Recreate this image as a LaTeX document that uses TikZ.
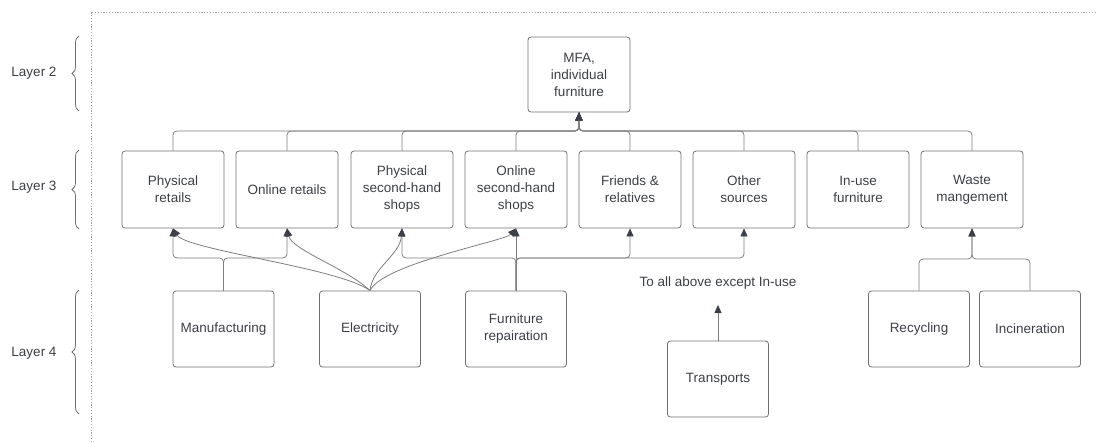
\documentclass[tikz,border=0pt]{standalone}
\usepackage{fontspec}
\setmainfont{Liberation Sans}
\usetikzlibrary{arrows.meta,decorations.pathreplacing,calc}
\definecolor{txt}{HTML}{3C3F45}
\definecolor{boxgray}{HTML}{707070}
\definecolor{linegray}{HTML}{7E7E7E}
\definecolor{headc}{HTML}{3B3F4A}
\definecolor{dotgray}{HTML}{A0A0A0}
\newcommand\diafont{\fontsize{13.5}{17}\selectfont}
\begin{document}
\begin{tikzpicture}[x=1pt,y=-1pt,
  box/.style={draw=boxgray, line width=0.8pt, rounded corners=3pt, align=center,
    text=txt, font=\diafont, inner sep=2pt, minimum width=102pt, minimum height=77pt},
  lowbox/.style={box, minimum width=101pt, minimum height=76pt},
  link/.style={draw=linegray, line width=0.8pt, rounded corners=4pt},
  arr/.style={link, -{Triangle[length=8pt,width=7pt,color=headc]}},
  layerbrace/.style={draw=boxgray, line width=0.8pt, decorate, decoration={brace, amplitude=7pt}},
  layertext/.style={text=txt, font=\diafont, inner sep=0pt},
  frame/.style={draw=dotgray, line width=0.9pt, dash pattern=on 1.2pt off 1.6pt}]

\useasboundingbox (0,0) rectangle (1097,442);

% dotted frame
\draw[frame] (91,442) -- (91,12) -- (1097,12);

% layer labels and braces
\node[layertext] (l2) at (34,73) {Layer 2};
\node[layertext] (l3) at (34,187) {Layer 3};
\node[layertext] (l4) at (34,353) {Layer 4};
\draw[layerbrace] (79,111) -- (79,36);
\draw[layerbrace] (79,229) -- (79,150);
\draw[layerbrace] (79,414) -- (79,290);

% layer 2
\node[box, minimum height=75pt] (mfa) at (579,74.5) {MFA,\\individual\\furniture};

% layer 3
\node[box] (pr)    at (173,189.5) {Physical\\retails};
\node[box] (orr)   at (287,189.5) {Online retails};
\node[box] (psh)   at (402,189.5) {Physical\\second-hand\\shops};
\node[box] (osh)   at (516,189.5) {Online\\second-hand\\shops};
\node[box] (fr)    at (630,189.5) {Friends \&\\relatives};
\node[box] (oth)   at (744,189.5) {Other\\sources};
\node[box] (inuse) at (858,189.5) {In-use\\furniture};
\node[box] (wm)    at (972,189.5) {Waste\\mangement};

% layer 4
\node[lowbox] (man) at (223.5,329) {Manufacturing};
\node[lowbox] (ele) at (370,329) {Electricity};
\node[lowbox] (rep) at (516,329) {Furniture\\repairation};
\node[lowbox] (tra) at (718,379) {Transports};
\node[lowbox] (rec) at (919,329) {Recycling};
\node[lowbox] (inc) at (1030,329) {Incineration};
\node[layertext] (lab) at (718,283) {To all above except In-use};

% junction points
\coordinate (bus) at (579,131);
\coordinate (jm) at (223.5,258);
\coordinate (jr) at (516,258);
\coordinate (jw) at (972,259);
\coordinate (tip) at (718,305);

% layer 3 -> layer 2
\foreach \b in {pr,orr,psh,osh,fr,oth,inuse,wm}
  \draw[arr] (\b.north) |- (bus) -- (mfa.south);

% manufacturing
\draw[arr] (man.north) -- (jm) -| (pr.south);
\draw[arr] (man.north) -- (jm) -| (orr.south);

% electricity
\draw[arr] (ele.north) .. controls (340,268) and (186,250) .. (pr.south);
\draw[arr] (ele.north) .. controls (346,268) and (292,250) .. (orr.south);
\draw[arr] (ele.north) .. controls (372,268) and (400,255) .. (psh.south);
\draw[arr] (ele.north) .. controls (382,264) and (505,241) .. (osh.south);

% furniture repairation
\draw[arr] (rep.north) -- (jr) -| (psh.south);
\draw[arr] (rep.north) -- (osh.south);
\draw[arr] (rep.north) -- (jr) -| (fr.south);
\draw[arr] (rep.north) -- (jr) -| (oth.south);

% transports
\draw[arr] (tra.north) -- (tip);

% waste management
\draw[arr] (rec.north) |- (jw) -- (wm.south);
\draw[arr] (inc.north) |- (jw) -- (wm.south);

\end{tikzpicture}
\end{document}
